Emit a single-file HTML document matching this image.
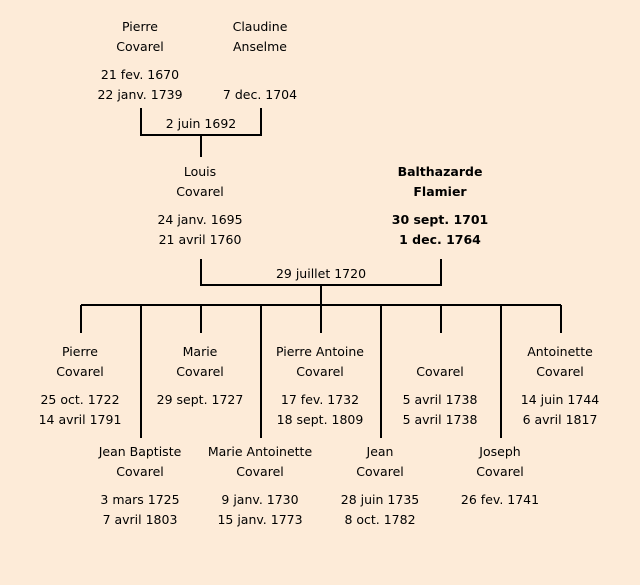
<!DOCTYPE html>
<html><head><style>
body{margin:0;width:640px;height:585px;background:#fdebd8;position:relative;overflow:hidden;font-family:"DejaVu Sans","Liberation Sans",sans-serif;font-size:12.5px;color:#000}
.t{position:absolute;width:140px;margin-left:-70px;text-align:center;line-height:20px;white-space:nowrap}
.b{font-weight:bold}
</style></head><body>
<svg width="640" height="585" style="position:absolute;left:0;top:0" stroke="#000" stroke-width="2" fill="none">
<path d="M141 108V135H261V108M201 135V157"/>
<path d="M201 259V285H441V259M321 285V305"/>
<path d="M81 305H561"/>
<path d="M81 305V333M201 305V333M321 305V333M441 305V333M561 305V333"/>
<path d="M141 305V438M261 305V438M381 305V438M501 305V438"/>
</svg>
<div class="t" style="left:140px;top:17px">Pierre<br>Covarel</div>
<div class="t" style="left:260px;top:17px">Claudine<br>Anselme</div>
<div class="t" style="left:140px;top:65px">21 fev. 1670<br>22 janv. 1739</div>
<div class="t" style="left:260px;top:85px">7 dec. 1704</div>
<div class="t" style="left:201px;top:114px">2 juin 1692</div>
<div class="t" style="left:200px;top:162px">Louis<br>Covarel</div>
<div class="t" style="left:200px;top:210px">24 janv. 1695<br>21 avril 1760</div>
<div class="t b" style="left:440px;top:162px">Balthazarde<br>Flamier</div>
<div class="t b" style="left:440px;top:210px">30 sept. 1701<br>1 dec. 1764</div>
<div class="t" style="left:321px;top:264px">29 juillet 1720</div>

<div class="t" style="left:80px;top:342px">Pierre<br>Covarel</div>
<div class="t" style="left:80px;top:390px">25 oct. 1722<br>14 avril 1791</div>
<div class="t" style="left:200px;top:342px">Marie<br>Covarel</div>
<div class="t" style="left:200px;top:390px">29 sept. 1727</div>
<div class="t" style="left:320px;top:342px">Pierre Antoine<br>Covarel</div>
<div class="t" style="left:320px;top:390px">17 fev. 1732<br>18 sept. 1809</div>
<div class="t" style="left:440px;top:362px">Covarel</div>
<div class="t" style="left:440px;top:390px">5 avril 1738<br>5 avril 1738</div>
<div class="t" style="left:560px;top:342px">Antoinette<br>Covarel</div>
<div class="t" style="left:560px;top:390px">14 juin 1744<br>6 avril 1817</div>

<div class="t" style="left:140px;top:442px">Jean Baptiste<br>Covarel</div>
<div class="t" style="left:140px;top:490px">3 mars 1725<br>7 avril 1803</div>
<div class="t" style="left:260px;top:442px">Marie Antoinette<br>Covarel</div>
<div class="t" style="left:260px;top:490px">9 janv. 1730<br>15 janv. 1773</div>
<div class="t" style="left:380px;top:442px">Jean<br>Covarel</div>
<div class="t" style="left:380px;top:490px">28 juin 1735<br>8 oct. 1782</div>
<div class="t" style="left:500px;top:442px">Joseph<br>Covarel</div>
<div class="t" style="left:500px;top:490px">26 fev. 1741</div>
</body></html>
